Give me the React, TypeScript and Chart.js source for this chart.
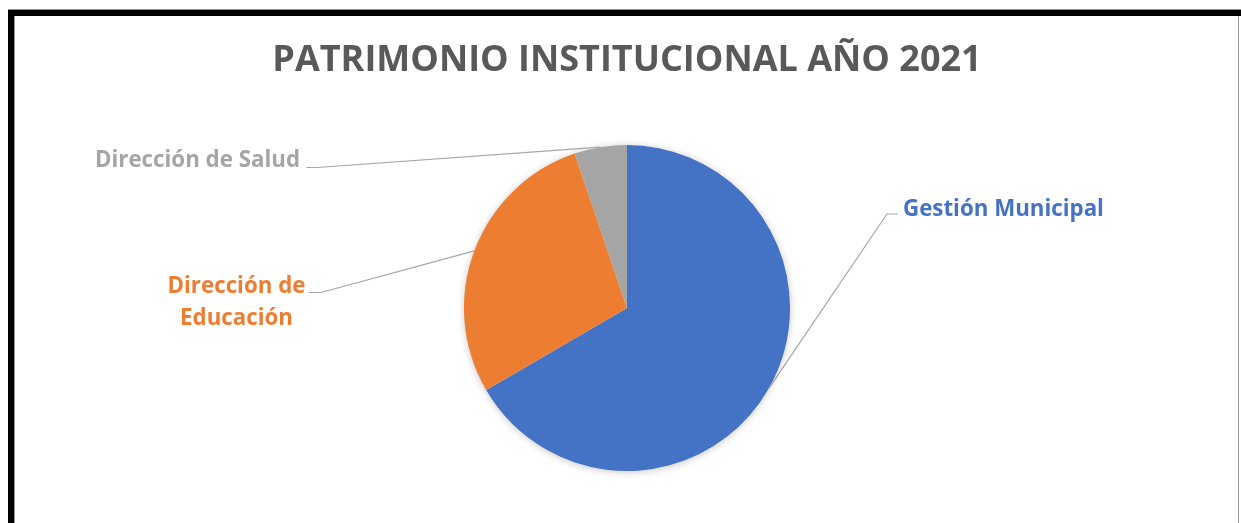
import { useEffect, useRef } from 'react';
import { Chart, registerables } from 'chart.js';

Chart.register(...registerables);

const TITLE = 'PATRIMONIO INSTITUCIONAL AÑO 2021';
const categories = ['Gestión Municipal', 'Dirección de Educación', 'Dirección de Salud'];
const labelLines = [['Gestión Municipal'], ['Dirección de', 'Educación'], ['Dirección de Salud']];
const values = [66.6, 28.2, 5.2];
const colors = ['#4472C4', '#ED7D31', '#A5A5A5'];

// label layout relative to the pie centre (pixels)
const LABEL_LAYOUT = [
  { tx: 276, ty: -92.5, align: 'left', elbow: [260, -94], hook: [271, -94] },
  { tx: -390.5, ty: -14.7, align: 'center', elbow: [-306, -15.5], hook: [-318, -15.5] },
  { tx: -327, ty: -141.3, align: 'right', elbow: [-310, -140.5], hook: [-320.5, -140.5] },
];
const LABEL_FONT = 'bold 22.3px "Open Sans"';
const LINE_HEIGHT = 31.7;

const shadowPlugin = {
  id: 'pieShadow',
  beforeDatasetsDraw(chart: any) {
    const arc = chart.getDatasetMeta(0).data[0];
    if (!arc) return;
    const { x, y, outerRadius } = arc.getProps(['x', 'y', 'outerRadius'], true);
    const ctx = chart.ctx;
    ctx.save();
    ctx.shadowColor = 'rgba(0,0,0,0.28)';
    ctx.shadowBlur = 9;
    ctx.shadowOffsetX = 0;
    ctx.shadowOffsetY = 1;
    ctx.fillStyle = '#ffffff';
    ctx.beginPath();
    ctx.arc(x, y, outerRadius - 1, 0, Math.PI * 2);
    ctx.fill();
    ctx.restore();
  },
};

const labelPlugin = {
  id: 'leaderLabels',
  afterDatasetsDraw(chart: any) {
    const ctx = chart.ctx;
    const meta = chart.getDatasetMeta(0);
    meta.data.forEach((arc: any, i: number) => {
      const { x, y, startAngle, endAngle, outerRadius } = arc.getProps(
        ['x', 'y', 'startAngle', 'endAngle', 'outerRadius'],
        true
      );
      const mid = (startAngle + endAngle) / 2;
      const ex = x + Math.cos(mid) * outerRadius;
      const ey = y + Math.sin(mid) * outerRadius;
      const L = LABEL_LAYOUT[i];
      ctx.save();
      ctx.strokeStyle = '#A6A6A6';
      ctx.lineWidth = 1.2;
      ctx.beginPath();
      ctx.moveTo(ex, ey);
      ctx.lineTo(x + L.elbow[0], y + L.elbow[1]);
      ctx.lineTo(x + L.hook[0], y + L.hook[1]);
      ctx.stroke();
      ctx.font = LABEL_FONT;
      ctx.fillStyle = colors[i];
      ctx.textAlign = L.align;
      ctx.textBaseline = 'alphabetic';
      labelLines[i].forEach((line, j) => {
        ctx.fillText(line, x + L.tx, y + L.ty + j * LINE_HEIGHT);
      });
      ctx.restore();
    });
  },
};

export default function App() {
  const ref = useRef<HTMLCanvasElement | null>(null);
  useEffect(() => {
    if (!ref.current) return;
    const chart = new Chart(ref.current, {
      type: 'pie',
      data: {
        labels: categories,
        datasets: [
          {
            data: values,
            backgroundColor: colors,
            borderWidth: 0,
          },
        ],
      },
      options: {
        animation: false,
        responsive: false,
        layout: { padding: { left: 100, right: 87, top: 0, bottom: 52 } },
        plugins: {
          legend: { display: false },
          tooltip: { enabled: false },
          title: {
            display: true,
            text: TITLE,
            color: '#595959',
            font: { family: '"Open Sans"', size: 36, weight: 'bold', lineHeight: 1.2 },
            padding: { top: 39.5, bottom: 62.3 },
          },
        },
      },
      plugins: [shadowPlugin, labelPlugin],
    });
    return () => chart.destroy();
  }, []);

  return (
    <div
      style={{
        position: 'absolute',
        left: 0,
        top: 0,
        width: 1241,
        height: 523,
        overflow: 'hidden',
        background: '#ffffff',
      }}
    >
      <canvas ref={ref} width={1241} height={523} style={{ position: 'absolute', left: 0, top: 0, width: 1241, height: 523 }} />
      <div style={{ position: 'absolute', left: 8, top: 9, width: 1233, height: 1, background: '#8a8a8a' }} />
      <div style={{ position: 'absolute', left: 8, top: 10, width: 1233, height: 6, background: '#000' }} />
      <div style={{ position: 'absolute', left: 8, top: 10, width: 6, height: 513, background: '#000' }} />
      <div style={{ position: 'absolute', left: 14, top: 16, width: 1, height: 507, background: '#9a9a9a' }} />
      <div style={{ position: 'absolute', left: 1238, top: 16, width: 1, height: 507, background: '#9a9a9a' }} />
    </div>
  );
}
